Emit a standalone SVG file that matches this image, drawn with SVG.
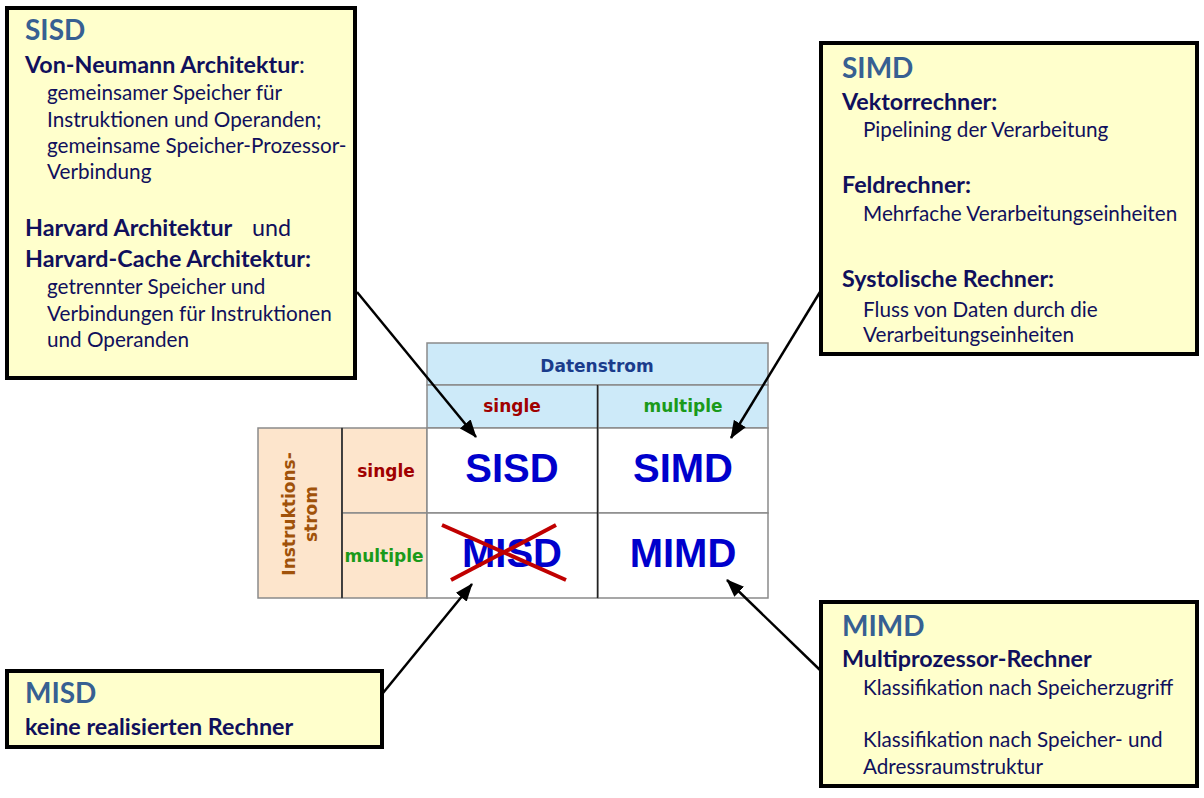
<svg xmlns="http://www.w3.org/2000/svg" width="1204" height="798" viewBox="0 0 1204 798">
<style>
.box{fill:#ffffcc;stroke:#000;stroke-width:4}
.hd{font-family:Lato,"Liberation Sans",sans-serif;font-weight:bold;font-size:28px;fill:#376092}
.b{font-family:Lato,"Liberation Sans",sans-serif;font-weight:bold;font-size:23.3px;fill:#10105c}
.t{font-family:Lato,"Liberation Sans",sans-serif;font-size:20.7px;fill:#10105c}
.cell{stroke:#8a8a8a;stroke-width:1.5}
.blue{fill:#cdeaf9}
.peach{fill:#fde5cc}
.white{fill:#ffffff}
.lbl{font-family:"DejaVu Sans",sans-serif;font-weight:bold;font-size:17px;text-anchor:middle}
.big{font-family:"Liberation Sans",Arial,sans-serif;font-weight:bold;font-size:40px;fill:#0000cc;text-anchor:middle}
.conn line{stroke:#000;stroke-width:2.5;marker-end:url(#ah)}
</style>
<defs>
<marker id="ah" viewBox="0 0 18 14" refX="17" refY="7" markerWidth="18" markerHeight="14" markerUnits="userSpaceOnUse" orient="auto">
<path d="M0,0 L18,7 L0,14 z" fill="#000"/>
</marker>
</defs>
<rect width="1204" height="798" fill="#ffffff"/>

<g id="table">
<rect class="cell blue" x="427" y="343" width="341" height="42"/>
<rect class="cell blue" x="427" y="385" width="171" height="43"/>
<rect class="cell blue" x="598" y="385" width="170" height="43"/>
<rect class="cell peach" x="258" y="428" width="84" height="170"/>
<rect class="cell peach" x="342" y="428" width="85" height="85"/>
<rect class="cell peach" x="342" y="513" width="85" height="85"/>
<rect class="cell white" x="427" y="428" width="171" height="85"/>
<rect class="cell white" x="598" y="428" width="170" height="85"/>
<rect class="cell white" x="427" y="513" width="171" height="85"/>
<rect class="cell white" x="598" y="513" width="170" height="85"/>
<line x1="342" y1="428" x2="342" y2="598" stroke="#222" stroke-width="1.5"/>
<line x1="597.5" y1="385" x2="597.5" y2="598" stroke="#222" stroke-width="1.5"/>
<text class="lbl" x="597" y="372" fill="#1a3c8c">Datenstrom</text>
<text class="lbl" x="512" y="412" fill="#a00000">single</text>
<text class="lbl" x="683" y="412" fill="#1a9a1a">multiple</text>
<text class="lbl" x="386" y="477" fill="#a00000">single</text>
<text class="lbl" x="384" y="562" fill="#1a9a1a">multiple</text>
<text class="lbl" transform="translate(295,514) rotate(-90)" fill="#a0520a">Instruktions-</text>
<text class="lbl" transform="translate(317,514) rotate(-90)" fill="#a0520a">strom</text>
<text class="big" x="512" y="482">SISD</text>
<text class="big" x="683" y="482">SIMD</text>
<text class="big" x="512" y="567">MISD</text>
<text class="big" x="683" y="567">MIMD</text>
<line x1="442" y1="525" x2="566" y2="580" stroke="#c00000" stroke-width="4"/>
<line x1="556" y1="525" x2="451" y2="580" stroke="#c00000" stroke-width="4"/>
</g>

<g id="sisd-box">
<rect class="box" x="7" y="8" width="348" height="370"/>
<text class="hd" x="25" y="40">SISD</text>
<text class="b" x="25" y="73">Von-Neumann Architektur<tspan font-weight="normal">:</tspan></text>
<text class="t" x="47" y="100">gemeinsamer Speicher für</text>
<text class="t" x="47" y="127">Instruktionen und Operanden;</text>
<text class="t" x="47" y="153">gemeinsame Speicher-Prozessor-</text>
<text class="t" x="47" y="179">Verbindung</text>
<text class="b" x="25" y="236">Harvard Architektur<tspan x="252" font-weight="normal">und</tspan></text>
<text class="b" x="25" y="267">Harvard-Cache Architektur:</text>
<text class="t" x="47" y="294">getrennter Speicher und</text>
<text class="t" x="47" y="321">Verbindungen für Instruktionen</text>
<text class="t" x="47" y="347">und Operanden</text>
</g>

<g id="simd-box">
<rect class="box" x="821" y="43" width="376" height="311"/>
<text class="hd" x="842" y="78">SIMD</text>
<text class="b" x="842" y="110">Vektorrechner:</text>
<text class="t" x="863" y="137">Pipelining der Verarbeitung</text>
<text class="b" x="842" y="193">Feldrechner:</text>
<text class="t" x="863" y="221">Mehrfache Verarbeitungseinheiten</text>
<text class="b" x="842" y="287">Systolische Rechner:</text>
<text class="t" x="863" y="317">Fluss von Daten durch die</text>
<text class="t" x="863" y="342">Verarbeitungseinheiten</text>
</g>

<g id="misd-box">
<rect class="box" x="7" y="671" width="375" height="76"/>
<text class="hd" x="25" y="703">MISD</text>
<text class="b" x="25" y="735">keine realisierten Rechner</text>
</g>

<g id="mimd-box">
<rect class="box" x="821" y="602" width="376" height="184"/>
<text class="hd" x="842" y="636">MIMD</text>
<text class="b" x="842" y="667">Multiprozessor-Rechner</text>
<text class="t" x="863" y="695">Klassifikation nach Speicherzugriff</text>
<text class="t" x="863" y="747">Klassifikation nach Speicher- und</text>
<text class="t" x="863" y="774">Adressraumstruktur</text>
</g>

<g id="connectors" class="conn">
<line x1="357" y1="292" x2="476" y2="437"/>
<line x1="820" y1="292" x2="731" y2="438"/>
<line x1="383" y1="693" x2="472" y2="584"/>
<line x1="820" y1="670" x2="727" y2="580"/>
</g>
</svg>
